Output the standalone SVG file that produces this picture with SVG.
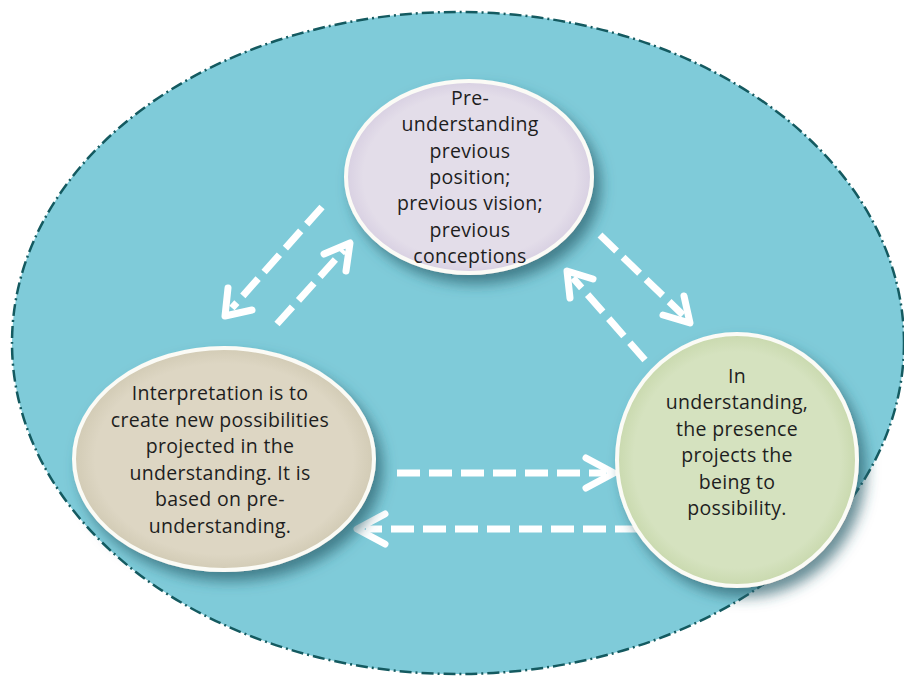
<svg xmlns="http://www.w3.org/2000/svg" width="904" height="681" viewBox="0 0 904 681">
  <defs>
    <style>
      .conn { fill: none; stroke: #ffffff; stroke-width: 7; stroke-dasharray: 23 9; }
      .head { fill: none; stroke: #ffffff; stroke-width: 7; stroke-linecap: round; stroke-linejoin: round; }
      .node { stroke: #fbfbf6; stroke-width: 4; filter: url(#shadow); }
      .lbl { font-family: "Open Sans", "Liberation Sans", sans-serif; font-size: 19.5px; letter-spacing: 0.3px; fill: #1e1e1e; text-anchor: middle; }
    </style>
    <filter id="shadow" x="-30%" y="-30%" width="170%" height="170%">
      <feDropShadow dx="7" dy="9" stdDeviation="7" flood-color="#2a5f6b" flood-opacity="0.7"/>
    </filter>
    <radialGradient id="gTop" cx="50%" cy="50%" r="50%">
      <stop offset="0.86" stop-color="#e3dde9"/>
      <stop offset="1" stop-color="#d8d0e2"/>
    </radialGradient>
    <radialGradient id="gLeft" cx="50%" cy="50%" r="50%">
      <stop offset="0.86" stop-color="#ddd6c3"/>
      <stop offset="1" stop-color="#d2cbb5"/>
    </radialGradient>
    <radialGradient id="gRight" cx="50%" cy="50%" r="50%">
      <stop offset="0.86" stop-color="#d5e2bf"/>
      <stop offset="1" stop-color="#c9d9ae"/>
    </radialGradient>
  </defs>

  <g id="background">
    <ellipse cx="458" cy="343" rx="446" ry="331" fill="#7fcbd9" stroke="#145a60" stroke-width="2.5" stroke-dasharray="12 4 2 4"/>
  </g>

  <g id="connectors">
    <path class="conn" d="M322 207 L232 308"/>
    <path class="head" d="M228 288 L225 316 L252 310"/>
    <path class="conn" d="M277 324 L344 250"/>
    <path class="head" d="M324 254 L350 243 L346 271"/>
    <path class="conn" d="M600 235 L683 315"/>
    <path class="head" d="M663 315 L690 323 L684 296"/>
    <path class="conn" d="M645 360 L573 278"/>
    <path class="head" d="M570 298 L567 271 L593 279"/>
    <path class="conn" d="M397 473 L606 473"/>
    <path class="head" d="M586 458 L614 473 L586 488"/>
    <path class="conn" d="M638 529 L366 529"/>
    <path class="head" d="M385 514 L357 529 L385 544"/>
  </g>

  <g id="node-pre-understanding">
    <ellipse class="node" cx="469" cy="177" rx="123" ry="96" fill="url(#gTop)"/>
    <text class="lbl" x="470" y="105">Pre-</text>
    <text class="lbl" x="470" y="131">understanding</text>
    <text class="lbl" x="470" y="158">previous</text>
    <text class="lbl" x="470" y="184">position;</text>
    <text class="lbl" x="470" y="210">previous vision;</text>
    <text class="lbl" x="470" y="237">previous</text>
    <text class="lbl" x="470" y="263">conceptions</text>
  </g>

  <g id="node-interpretation">
    <ellipse class="node" cx="224" cy="459" rx="150" ry="111" fill="url(#gLeft)"/>
    <text class="lbl" x="220" y="400">Interpretation is to</text>
    <text class="lbl" x="220" y="427">create new possibilities</text>
    <text class="lbl" x="220" y="453">projected in the</text>
    <text class="lbl" x="220" y="480">understanding. It is</text>
    <text class="lbl" x="220" y="506">based on pre-</text>
    <text class="lbl" x="220" y="533">understanding.</text>
  </g>

  <g id="node-understanding">
    <ellipse class="node" cx="737" cy="460" rx="120" ry="126" fill="url(#gRight)"/>
    <text class="lbl" x="737" y="383">In</text>
    <text class="lbl" x="737" y="409">understanding,</text>
    <text class="lbl" x="737" y="436">the presence</text>
    <text class="lbl" x="737" y="462">projects the</text>
    <text class="lbl" x="737" y="489">being to</text>
    <text class="lbl" x="737" y="515">possibility.</text>
  </g>
</svg>
